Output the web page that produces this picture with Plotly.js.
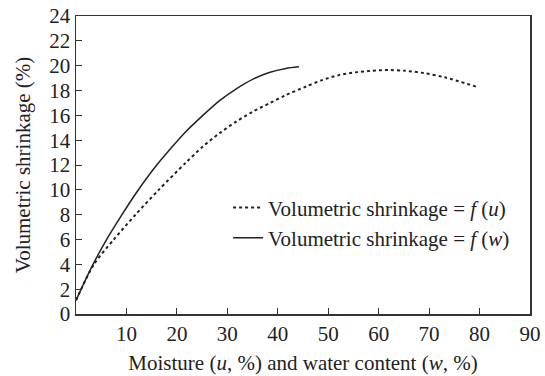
<!DOCTYPE html>
<html>
<head>
<meta charset="utf-8">
<script src="https://cdn.plot.ly/plotly-3.0.1.min.js"></script>
<style>html,body{margin:0;padding:0;background:#fff;}#chart{width:545px;height:376px;}</style>
</head>
<body>
<div id="chart"></div>
<script>
// Volumetric shrinkage as a function of moisture u (dotted)
const uMoisture = [0, 3.55, 7.5, 11.8, 16.4, 21.8, 25.1, 28.4, 31.7, 35.0, 38.3, 41.6, 45.5, 48.8, 52.1, 55.4, 58.6, 61.9, 65.2, 69.0, 73.1, 79.4];
const shrinkU   = [1.1, 4.0, 6.0, 8.0, 10.0, 12.2, 13.47, 14.55, 15.48, 16.29, 16.96, 17.63, 18.3, 18.84, 19.24, 19.46, 19.59, 19.65, 19.59, 19.4, 19.06, 18.3];
// Volumetric shrinkage as a function of water content w (solid)
const wContent  = [0, 3.2, 5.86, 8.8, 12.1, 16.0, 18.5, 21.8, 25.1, 28.4, 31.7, 35.0, 38.3, 41.6, 44.2];
const shrinkW   = [1.1, 3.85, 5.85, 7.8, 9.85, 12.0, 13.2, 14.7, 15.98, 17.17, 18.12, 18.9, 19.45, 19.78, 19.91];
const xTicks = [10, 20, 30, 40, 50, 60, 70, 80, 90];
const yTicks = [0, 2, 4, 6, 8, 10, 12, 14, 16, 18, 20, 22, 24];

const font = {family: 'Liberation Serif, Times New Roman, serif', color: '#222'};
const fs = 21;

const traces = [
  {x: uMoisture, y: shrinkU, mode: 'lines', name: 'Volumetric shrinkage = <i>f</i> (<i>u</i>)',
   line: {color: '#222', width: 2, dash: 'dot', shape: 'spline', smoothing: 0.8}},
  {x: wContent, y: shrinkW, mode: 'lines', name: 'Volumetric shrinkage = <i>f</i> (<i>w</i>)',
   line: {color: '#222', width: 1.5, shape: 'spline', smoothing: 0.8}}
];

const layout = {
  width: 545, height: 376,
  margin: {l: 76, r: 15, t: 16, b: 62},
  paper_bgcolor: '#fff', plot_bgcolor: '#fff',
  font: Object.assign({size: fs}, font),
  showlegend: true,
  legend: {x: 0.335, y: 0.425, xanchor: 'left', yanchor: 'top', bgcolor: 'rgba(0,0,0,0)',
           font: Object.assign({size: fs}, font), tracegroupgap: 0},
  xaxis: {
    range: [0, 90], tickvals: xTicks, ticktext: xTicks.map(String),
    ticks: 'inside', ticklen: 6, tickcolor: '#333', tickwidth: 1,
    showline: true, linecolor: '#333', linewidth: 1.5, mirror: true,
    showgrid: false, zeroline: false,
    tickfont: Object.assign({size: fs}, font),
    title: {text: 'Moisture (<i>u</i>, %) and water content (<i>w</i>, %)', font: Object.assign({size: fs}, font), standoff: 10}
  },
  yaxis: {
    range: [0, 24], tickvals: yTicks, ticktext: yTicks.map(String),
    ticks: 'inside', ticklen: 6, tickcolor: '#333', tickwidth: 1,
    showline: true, linecolor: '#333', linewidth: 1.5, mirror: true,
    showgrid: false, zeroline: false,
    tickfont: Object.assign({size: fs}, font),
    title: {text: 'Volumetric shrinkage (%)', font: Object.assign({size: fs}, font), standoff: 13}
  }
};

Plotly.newPlot('chart', traces, layout, {displayModeBar: false, staticPlot: true});
</script>
</body>
</html>
